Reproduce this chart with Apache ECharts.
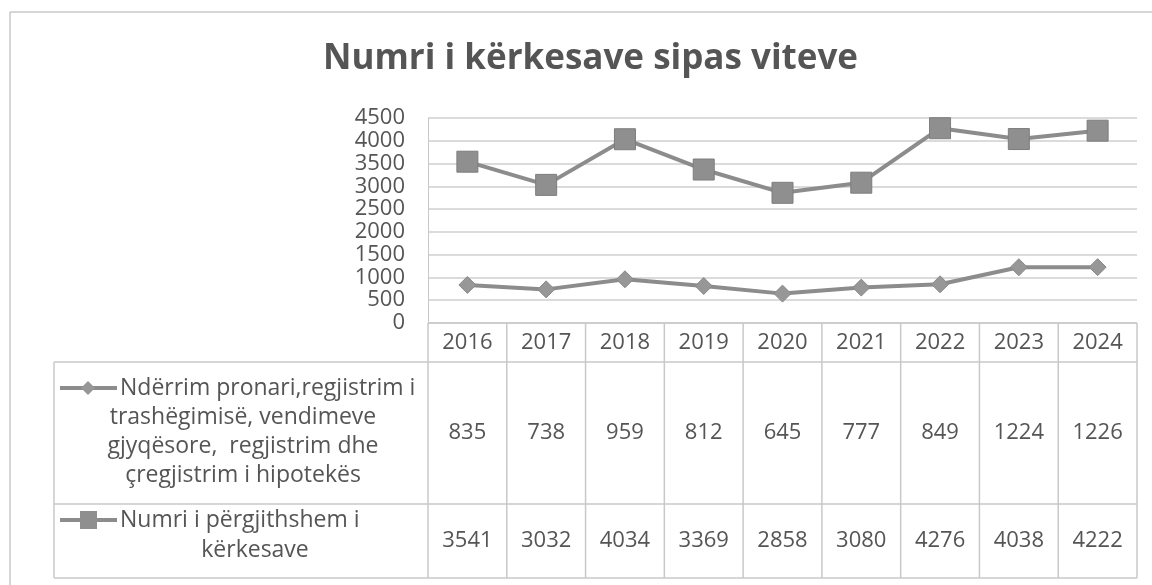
<!DOCTYPE html>
<html>
<head>
<meta charset="utf-8">
<script src="https://cdn.jsdelivr.net/npm/echarts@6/dist/echarts.min.js"></script>
<style>
html,body{margin:0;padding:0;background:#fff;}
#main{width:1152px;height:585px;}
</style>
</head>
<body>
<div id="main"></div>
<script>
var years = ['2016','2017','2018','2019','2020','2021','2022','2023','2024'];
var ndrrim = [835, 738, 959, 812, 645, 777, 849, 1224, 1226];
var totali = [3541, 3032, 4034, 3369, 2858, 3080, 4276, 4038, 4222];
var name_ndrrim = 'Ndërrim pronari,regjistrim i trashëgimisë, vendimeve gjyqësore,  regjistrim dhe çregjistrim i hipotekës';
var name_totali = 'Numri i përgjithshem i kërkesave';
var yTicks = [0, 4500, 500];

var txtColor = '#555555';
var lineColor = '#8c8c8c';
var borderColor = '#c8c8c8';
var font = '"Open Sans", Lato, sans-serif';

var myChart = echarts.init(document.getElementById('main'));
var gLeft = 428, gRight = 1137, gTop = 118, gBottom = 323;

var option = {
    backgroundColor: '#fff',
    animation: false,
    title: {
        text: 'Numri i kërkesave sipas viteve',
        left: 318,
        top: 37,
        textStyle: {fontFamily: font, fontSize: 35, fontWeight: 'bold', color: txtColor}
    },
    grid: {left: gLeft, right: 1152 - gRight, top: gTop, bottom: 585 - gBottom},
    xAxis: {
        type: 'category',
        data: years,
        boundaryGap: true,
        axisLine: {show: false},
        axisTick: {show: false},
        axisLabel: {show: false}
    },
    yAxis: {
        type: 'value',
        min: yTicks[0],
        max: yTicks[1],
        interval: yTicks[2],
        axisLine: {show: true, lineStyle: {color: borderColor, width: 1}},
        axisTick: {show: false},
        axisLabel: {color: txtColor, fontFamily: font, fontSize: 22, margin: 23, lineHeight: 22,
            formatter: function (v) { return String(v); }},
        splitLine: {show: true, lineStyle: {color: '#cfcfcf', width: 1.5}}
    },
    series: [
        {
            name: name_ndrrim,
            type: 'line',
            data: ndrrim,
            symbol: 'diamond',
            symbolSize: 17,
            lineStyle: {color: lineColor, width: 4},
            itemStyle: {color: '#979797', borderColor: '#8a8a8a', borderWidth: 1}
        },
        {
            name: name_totali,
            type: 'line',
            data: totali,
            symbol: 'rect',
            symbolSize: 21,
            lineStyle: {color: lineColor, width: 4},
            itemStyle: {color: '#8f8f8f', borderColor: '#7d7d7d', borderWidth: 1}
        }
    ]
};
myChart.setOption(option);

// data table under the chart, built from the same arrays
var tLeft = 54, hTop = gBottom, hBot = 362, r1Bot = 504, r2Bot = 578;
var colW = (gRight - gLeft) / years.length;
var els = [];
function hline(x1, x2, y) {
    els.push({type: 'line', shape: {x1: x1, y1: y, x2: x2, y2: y}, style: {stroke: borderColor, lineWidth: 1.5}, silent: true});
}
function vline(x, y1, y2) {
    els.push({type: 'line', shape: {x1: x, y1: y1, x2: x, y2: y2}, style: {stroke: borderColor, lineWidth: 1.5}, silent: true});
}
function txt(s, x, y, align, size) {
    els.push({type: 'text', x: x, y: y, silent: true,
        style: {text: s, fill: txtColor, font: (size || 22) + 'px ' + font, align: align || 'center', verticalAlign: 'middle'}});
}
hline(gLeft, gRight, hTop);
hline(tLeft, gRight, hBot);
hline(tLeft, gRight, r1Bot);
hline(tLeft, gRight, r2Bot);
vline(tLeft, hBot, r2Bot);
for (var i = 0; i <= years.length; i++) {
    vline(gLeft + i * colW, hTop, r2Bot);
}
for (var i = 0; i < years.length; i++) {
    var cx = myChart.convertToPixel({xAxisIndex: 0}, years[i]);
    txt(years[i], cx, 343);
    txt(String(ndrrim[i]), cx, 433);
    txt(String(totali[i]), cx, 541);
}
// legend keys in the table
function key(y, symbol) {
    els.push({type: 'line', shape: {x1: 60, y1: y, x2: 117, y2: y}, style: {stroke: lineColor, lineWidth: 4}, silent: true});
    if (symbol === 'diamond') {
        els.push({type: 'polygon', shape: {points: [[88, y - 7], [95, y], [88, y + 7], [81, y]]}, style: {fill: '#979797'}, silent: true});
    } else {
        els.push({type: 'rect', shape: {x: 80, y: y - 9, width: 17, height: 18}, style: {fill: '#8f8f8f'}, silent: true});
    }
}
key(388, 'diamond');
txt('Ndërrim pronari,regjistrim i', 120, 388, 'left', 23);
txt('trashëgimisë, vendimeve', 243, 417, 'center', 23);
txt('gjyqësore,  regjistrim dhe', 243, 446, 'center', 23);
txt('çregjistrim i hipotekës', 243, 475, 'center', 23);
key(520, 'rect');
txt('Numri i përgjithshem i', 120, 520, 'left', 23);
txt('kërkesave', 255, 550, 'center', 23);
// outer chart frame
vline(10, 12, 585);
hline(10, 1152, 12);
myChart.setOption({graphic: {elements: els}});
</script>
</body>
</html>
